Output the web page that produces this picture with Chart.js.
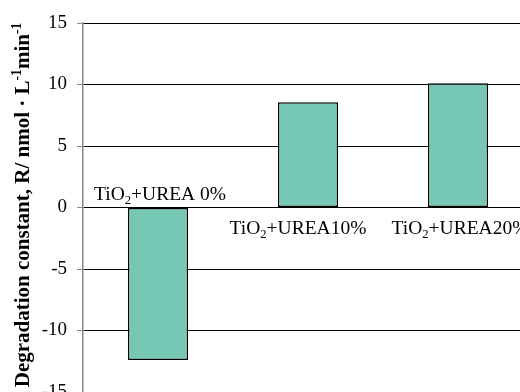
<!DOCTYPE html>
<html>
<head>
<meta charset="utf-8">
<script src="https://cdn.jsdelivr.net/npm/chart.js@4"></script>
<style>
  html, body { margin: 0; padding: 0; background: #fff; overflow: hidden; width: 520px; height: 392px; }
  #wrap { position: absolute; left: 0; top: 0; width: 540px; height: 430px; }
</style>
</head>
<body>
<div id="wrap"><canvas id="c" width="540" height="430"></canvas></div>
<script>
// Catalyst samples and their degradation constants
const categories = ['TiO2+UREA 0%', 'TiO2+UREA10%', 'TiO2+UREA20%'];
const rates = [-12.4, 8.55, 10.1];
const yTicks = [-15, -10, -5, 0, 5, 10, 15];

const SERIF = '"Liberation Serif", "Times New Roman", serif';
const FILL = '#76c8b4';

// Draws a run of text pieces, some of them sub- or superscript; returns total width
function drawRich(ctx, parts, x, y, size, align) {
  const fontFor = p => (p.bold ? 'bold ' : '') + (p.sub || p.sup ? size * 0.65 : size) + 'px ' + SERIF;
  let total = 0;
  for (const p of parts) { ctx.font = fontFor(p); total += ctx.measureText(p.t).width; }
  let cx = align === 'center' ? x - total / 2 : x;
  for (const p of parts) {
    ctx.font = fontFor(p);
    const dy = p.sub ? size * 0.22 : (p.sup ? -size * 0.38 : 0);
    ctx.fillText(p.t, cx, y + dy);
    cx += ctx.measureText(p.t).width;
  }
  return total;
}

function splitFormula(label) {
  const i = label.indexOf('TiO2');
  return [{ t: 'TiO' }, { t: '2', sub: true }, { t: label.slice(i + 4) }];
}

// Category names sit next to the zero line, on the side away from the bar
const categoryLabels = {
  id: 'categoryLabels',
  afterDatasetsDraw(chart, args, opts) {
    const ctx = chart.ctx;
    const xs = chart.scales.x, ys = chart.scales.y;
    const y0 = ys.getPixelForValue(0);
    ctx.save();
    ctx.fillStyle = '#000';
    ctx.textBaseline = 'alphabetic';
    ctx.textAlign = 'left';
    categories.forEach((c, i) => {
      const x = xs.getPixelForValue(i) + (opts.shift[i] || 0);
      const y = rates[i] < 0 ? y0 - 8 : y0 + 26;
      drawRich(ctx, splitFormula(c), x, y, 19.5, 'center');
    });
    ctx.restore();
  }
};

// Vertical axis title with superscript exponents
const axisTitle = {
  id: 'axisTitle',
  afterDraw(chart) {
    const ctx = chart.ctx;
    const parts = [
      { t: 'Degradation constant, R/ nmol \u00b7 L', bold: true },
      { t: '-1', bold: true, sup: true },
      { t: 'min', bold: true },
      { t: '-1', bold: true, sup: true }
    ];
    ctx.save();
    ctx.translate(29, 205);
    ctx.rotate(-Math.PI / 2);
    ctx.fillStyle = '#000';
    ctx.textBaseline = 'alphabetic';
    ctx.textAlign = 'left';
    drawRich(ctx, parts, 0, 0, 21, 'center');
    ctx.restore();
  }
};

new Chart(document.getElementById('c'), {
  type: 'bar',
  data: {
    labels: categories,
    datasets: [{
      data: rates,
      backgroundColor: FILL,
      borderColor: '#000',
      borderWidth: 1.4,
      borderSkipped: false,
      categoryPercentage: 1,
      barPercentage: 0.4
    }]
  },
  options: {
    responsive: false,
    animation: false,
    layout: { padding: { left: 0, top: 23, right: 7, bottom: 38 } },
    plugins: {
      legend: { display: false },
      tooltip: { enabled: false },
      categoryLabels: { shift: [2, -10, 2] }
    },
    scales: {
      x: { display: false },
      y: {
        min: -15, max: 15,
        afterBuildTicks(scale) { scale.ticks = yTicks.map(v => ({ value: v })); },
        afterFit(scale) { scale.width = 83; },
        ticks: {
          color: '#000',
          padding: 10,
          font: { family: SERIF, size: 19 }
        },
        grid: {
          color: '#000',
          lineWidth: 1,
          tickColor: '#888',
          tickLength: 6,
          drawTicks: true
        },
        border: { color: '#888', width: 1.5 }
      }
    }
  },
  plugins: [categoryLabels, axisTitle]
});
</script>
</body>
</html>
